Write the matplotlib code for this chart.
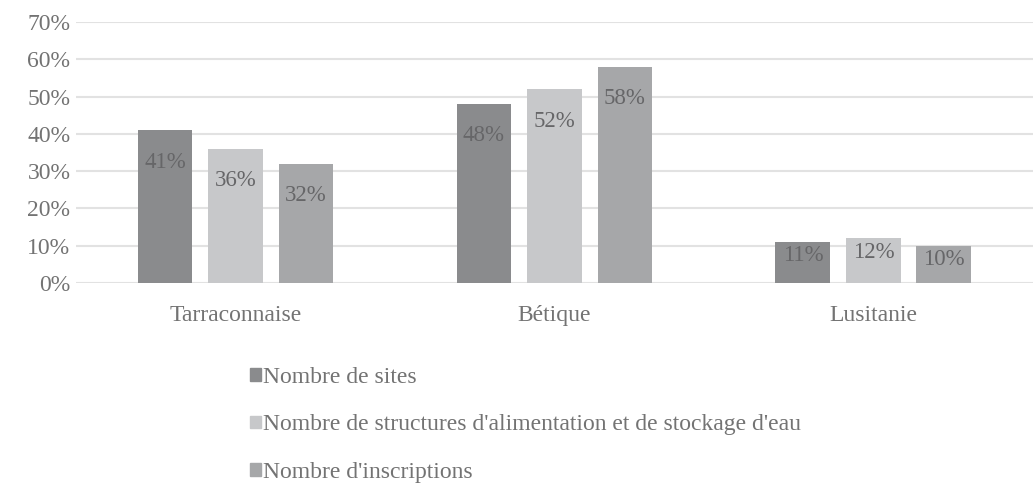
import matplotlib.pyplot as plt
from matplotlib.patches import Patch
from matplotlib.ticker import PercentFormatter

plt.rcParams['font.family'] = ['Liberation Serif', 'DejaVu Serif']

provinces = ['Tarraconnaise', 'Bétique', 'Lusitanie']
series = ['Nombre de sites',
          "Nombre de structures d'alimentation et de stockage d'eau",
          "Nombre d'inscriptions"]
sites = [0.41, 0.48, 0.11]
structures = [0.36, 0.52, 0.12]
inscriptions = [0.32, 0.58, 0.10]

colors = ['#8a8b8d', '#c7c8ca', '#a6a7a9']
text_col = '#737373'

fig = plt.figure(figsize=(10.36, 4.92), dpi=100)
ax = fig.add_axes([0.0734, 0.4248, 0.9236, 0.5305])

width = 0.172
step = 0.221
for i, (vals, col) in enumerate(zip([sites, structures, inscriptions], colors)):
    xs = [k + (i - 1) * step for k in range(len(provinces))]
    ax.bar(xs, vals, width, color=col, zorder=2)
    for x, v in zip(xs, vals):
        off = -23 if v > 0.2 else -10
        ax.annotate(f'{round(v * 100)}%', (x, v), xytext=(0, off),
                    textcoords='offset points', ha='center', va='center',
                    fontsize=16.5, color='#666668', zorder=3)

ax.set_xlim(-0.5, 2.5)
ax.set_ylim(0, 0.7)
ax.set_yticks([i / 10 for i in range(8)])
ax.yaxis.set_major_formatter(PercentFormatter(1.0, decimals=0))
ax.set_xticks(range(len(provinces)))
ax.set_xticklabels(provinces)
ax.grid(axis='y', color='#e2e2e2', linewidth=1.5, zorder=0)
for s in ax.spines.values():
    s.set_visible(False)
ax.tick_params(length=0, labelsize=17, colors=text_col)
ax.tick_params(axis='x', pad=16)
ax.tick_params(axis='y', pad=4)

handles = [Patch(color=c) for c in colors]
fig.legend(handles, series, loc='upper left', bbox_to_anchor=(0.2298, 0.278),
           frameon=False, fontsize=17, labelcolor=text_col,
           handlelength=0.45, handleheight=0.45, handletextpad=0.1,
           labelspacing=1.12, borderpad=0)

fig.savefig('out.png', dpi=100)
